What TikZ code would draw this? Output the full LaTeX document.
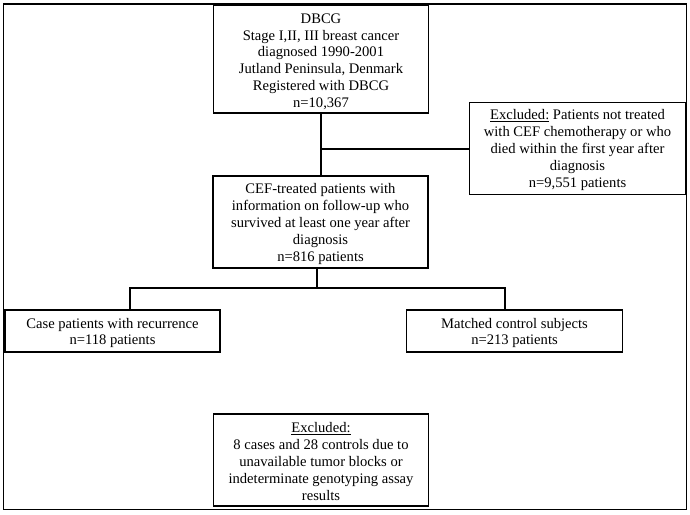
\documentclass[tikz,border=0pt]{standalone}
\usepackage{fontspec}
\setmainfont{Liberation Serif}
\begin{document}
\begin{tikzpicture}[x=1pt,y=-1pt,
  box/.style={draw=black,line width=1.7pt,fill=white,inner sep=0pt},
  boxtext/.style={inner sep=0pt,align=center,font=\fontsize{14.6}{16.8}\selectfont},
  conn/.style={draw=black,line width=1.6pt}]
\useasboundingbox (0,0) rectangle (690,514);
\fill[white] (0,0) rectangle (690,514);
\draw[line width=1.1pt] (3.5,4) rectangle (686.5,509.5);

\node[box,minimum width=215pt,minimum height=108pt] (dbcg) at (321,59) {};
\node[boxtext] (dbcgt) at ([yshift=-2.5pt]dbcg.center)
  {DBCG\\Stage I,II, III breast cancer\\diagnosed 1990-2001\\Jutland Peninsula, Denmark\\Registered with DBCG\\n=10,367};
\node[box,minimum width=216pt,minimum height=92pt] (excl) at (577.5,148.5) {};
\node[boxtext] (exclt) at ([yshift=-1.5pt]excl.center)
  {\underline{Excluded:} Patients not treated\\with CEF chemotherapy or who\\died within the first year after\\diagnosis\\n=9,551 patients};
\node[box,minimum width=215pt,minimum height=92.5pt] (cef) at (320.5,222) {};
\node[boxtext] (ceft) at ([yshift=-2pt]cef.center)
  {CEF-treated patients with\\information on follow-up who\\survived at least one year after\\diagnosis\\n=816 patients};
\node[box,minimum width=215pt,minimum height=42.5pt] (case) at (112.5,331) {};
\node[boxtext] (caset) at ([yshift=-2pt]case.center)
  {Case patients with recurrence\\n=118 patients};
\node[box,minimum width=216pt,minimum height=42pt] (matched) at (514.5,331) {};
\node[boxtext] (matchedt) at ([yshift=-2pt]matched.center)
  {Matched control subjects\\n=213 patients};
\node[box,minimum width=215pt,minimum height=92pt] (excl2) at (321,460) {};
\node[boxtext] (excl2t) at ([yshift=-1.5pt]excl2.center)
  {\underline{Excluded:}\\8 cases and 28 controls due to\\unavailable tumor blocks or\\indeterminate genotyping assay\\results};

\coordinate (b1) at (320.7,149);
\draw[conn] (b1 |- dbcg.south) -- (b1 |- cef.north);
\draw[conn] (b1) -- (b1 -| excl.west);
\coordinate (b2) at (317,288);
\coordinate (L) at (130,288);
\coordinate (R) at (505,288);
\draw[conn] (b2 |- cef.south) -- (b2);
\draw[conn] (L |- case.north) -- (L) -- (R) -- (R |- matched.north);
\end{tikzpicture}
\end{document}
